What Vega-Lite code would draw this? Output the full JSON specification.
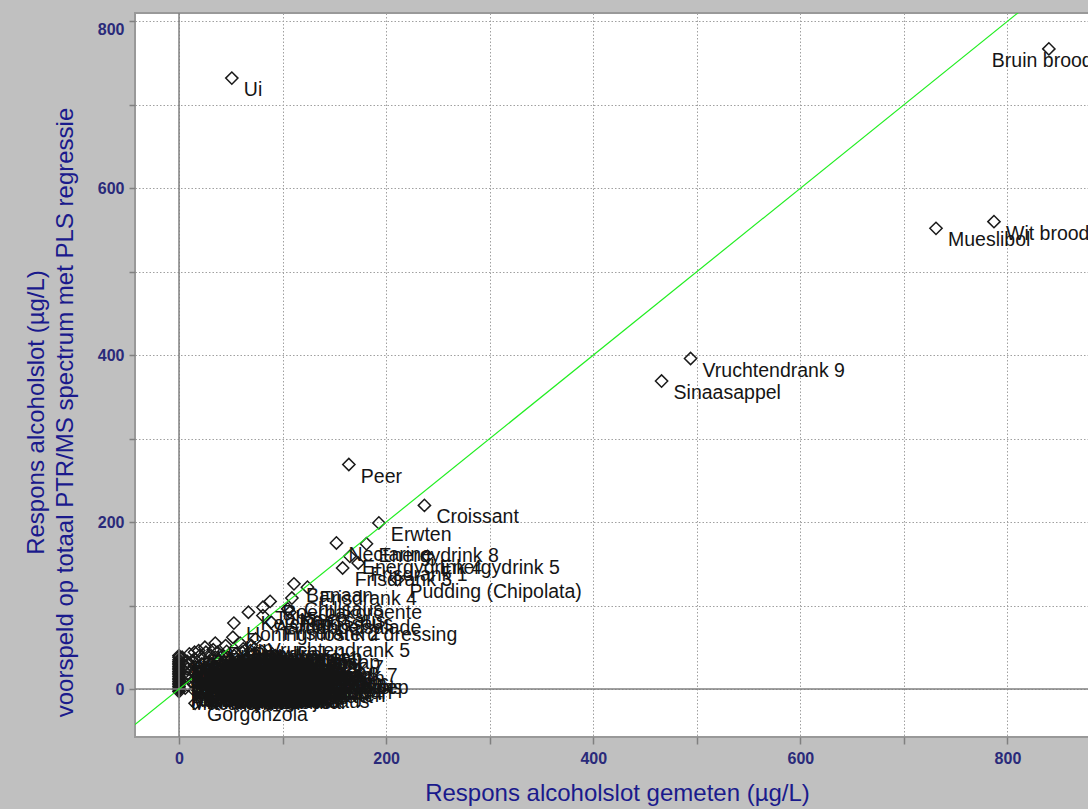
{
  "$schema": "https://vega.github.io/schema/vega-lite/v6.json",
  "autosize": {"type": "none"},
  "padding": {"left": 135, "top": 13, "right": 0, "bottom": 72},
  "width": 976,
  "height": 724,
  "background": "#c0c0c0",
  "config": {
    "view": {"fill": "white", "stroke": "#999999", "strokeWidth": 2},
    "font": "Liberation Sans"
  },
  "datasets": {
    "diag": [{"x": -60, "y": -60}, {"x": 900, "y": 900}],
    "pts": [
      {"x": 51, "y": 732, "n": "Ui"},
      {"x": 840, "y": 767, "n": "Bruin brood"},
      {"x": 731, "y": 552, "n": "Mueslibol"},
      {"x": 787, "y": 560, "n": "Wit brood"},
      {"x": 494, "y": 396, "n": "Vruchtendrank 9"},
      {"x": 466, "y": 369, "n": "Sinaasappel"},
      {"x": 164, "y": 269, "n": "Peer"},
      {"x": 237, "y": 220, "n": "Croissant"},
      {"x": 193, "y": 199, "n": "Erwten"},
      {"x": 152, "y": 175, "n": "Nectarine"},
      {"x": 181, "y": 174, "n": "Energydrink 8"},
      {"x": 165, "y": 159, "n": "Energydrink 4"},
      {"x": 240, "y": 159, "n": "Energydrink 5"},
      {"x": 158, "y": 145, "n": "Frisdrank 3"},
      {"x": 173, "y": 151, "n": "Frisdrank 1"},
      {"x": 211, "y": 131, "n": "Pudding (Chipolata)"},
      {"x": 111, "y": 126, "n": "Banaan"},
      {"x": 124, "y": 122, "n": "Frisdrank 4"},
      {"x": 15.5, "y": -17, "n": "Gorgonzola"},
      {"x": 88, "y": 105, "n": "Roerbakgroente"},
      {"x": 109, "y": 109, "n": "Chilisaus"},
      {"x": 105, "y": 96, "n": "Kaassaus"},
      {"x": 81, "y": 98, "n": "Tabasco"},
      {"x": 67, "y": 92, "n": "Ketchup"},
      {"x": 53, "y": 79, "n": "Honingmosterd dressing"},
      {"x": 81, "y": 88, "n": "Aardappelsalade"},
      {"x": 89, "y": 80, "n": "Frisdrank 2"},
      {"x": 107, "y": 92, "n": "Pindasaus"},
      {"x": 74, "y": 60, "n": "Vruchtendrank 5"},
      {"x": 0, "y": 40, "n": "Water"},
      {"x": 0, "y": 35, "n": "Melk"},
      {"x": 0, "y": 31, "n": "Thee"},
      {"x": 0, "y": 27, "n": "Koffie"},
      {"x": 0, "y": 23, "n": "Karnemelk"},
      {"x": 0, "y": 19, "n": "Yoghurt"},
      {"x": 0, "y": 15, "n": "Kwark"},
      {"x": 0, "y": 11, "n": "Vla"},
      {"x": 0, "y": 7, "n": "Rijst"},
      {"x": 0, "y": 3, "n": "Pasta"},
      {"x": 0, "y": 0, "n": "Aardappel"},
      {"x": 0, "y": -3, "n": "Macaroni"},
      {"x": 0, "y": 38, "n": "Bouillon"},
      {"x": 0, "y": 33, "n": "Erwtensoep"},
      {"x": 0, "y": 29, "n": "Kippensoep"},
      {"x": 0, "y": 25, "n": "Kabeljauw"},
      {"x": 0, "y": 21, "n": "Spek"},
      {"x": 0, "y": 17, "n": "Paling"},
      {"x": 0, "y": 13, "n": "Leverworst"},
      {"x": 0, "y": 9, "n": "Paté"},
      {"x": 0, "y": 5, "n": "Kipfilet"},
      {"x": 0, "y": 1, "n": "Kalkoen"},
      {"x": 0, "y": -1, "n": "Makreel"},
      {"x": 8, "y": 33, "n": "Spaghetti"},
      {"x": 8, "y": 24, "n": "Ei"},
      {"x": 8, "y": 14, "n": "Boter"},
      {"x": 8, "y": 5, "n": "Margarine"},
      {"x": 15, "y": 44, "n": "Kauwgom"},
      {"x": 15, "y": 36, "n": "Pepermunt"},
      {"x": 15, "y": 28, "n": "Drop"},
      {"x": 15, "y": 20, "n": "Snoep"},
      {"x": 15, "y": 12, "n": "Chocolade"},
      {"x": 15, "y": 5, "n": "Hagelslag"},
      {"x": 15, "y": -2, "n": "Pindakaas"},
      {"x": 22, "y": 30, "n": "Beschuit"},
      {"x": 24, "y": 18, "n": "Crackers"},
      {"x": 27, "y": 8, "n": "Ontbijtkoek"},
      {"x": 30, "y": 0, "n": "Stroopwafel"},
      {"x": 33, "y": 47, "n": "Appel"},
      {"x": 35, "y": 38, "n": "Kiwi"},
      {"x": 36, "y": 25, "n": "Mango"},
      {"x": 38, "y": 12, "n": "Ananas"},
      {"x": 40, "y": 3, "n": "Druiven"},
      {"x": 41, "y": -3, "n": "Aardbei"},
      {"x": 26, "y": 44, "n": "Framboos"},
      {"x": 30, "y": 20, "n": "Kers"},
      {"x": 44, "y": 31, "n": "Vruchtendrank 8"},
      {"x": 46, "y": 45, "n": "Pruim"},
      {"x": 48, "y": 20, "n": "Meloen"},
      {"x": 50, "y": 10, "n": "Watermeloen"},
      {"x": 52, "y": 0, "n": "Citroen"},
      {"x": 55, "y": 42, "n": "Limoen"},
      {"x": 56, "y": 28, "n": "Grapefruit"},
      {"x": 58, "y": 15, "n": "Mandarijn"},
      {"x": 60, "y": 5, "n": "Perzik"},
      {"x": 62, "y": -2, "n": "Abrikoos"},
      {"x": 64, "y": 35, "n": "Vijg"},
      {"x": 66, "y": 22, "n": "Dadel"},
      {"x": 68, "y": 12, "n": "Rozijnen"},
      {"x": 70, "y": 2, "n": "Tomaat"},
      {"x": 45, "y": 52, "n": "Komkommer"},
      {"x": 59, "y": 55, "n": "Paprika"},
      {"x": 73, "y": 43, "n": "Wortel"},
      {"x": 74, "y": 22, "n": "Frisdrank 6"},
      {"x": 76, "y": 30, "n": "Knoflook"},
      {"x": 78, "y": 12, "n": "Prei"},
      {"x": 80, "y": 4, "n": "Spinazie"},
      {"x": 84, "y": 38, "n": "Broccoli"},
      {"x": 86, "y": 25, "n": "Bloemkool"},
      {"x": 88, "y": 15, "n": "Champignons"},
      {"x": 90, "y": 5, "n": "Friet"},
      {"x": 94, "y": 32, "n": "Pizza"},
      {"x": 96, "y": 20, "n": "Tosti"},
      {"x": 98, "y": 10, "n": "Parmezaan"},
      {"x": 100, "y": 0, "n": "Ham"},
      {"x": 105, "y": 28, "n": "Salami"},
      {"x": 108, "y": 15, "n": "Rookworst"},
      {"x": 117, "y": 5, "n": "Papaja"},
      {"x": 52, "y": 62, "n": "Kip"},
      {"x": 62, "y": 48, "n": "Appelsap"},
      {"x": 70, "y": 52, "n": "Druivensap"},
      {"x": 80, "y": 45, "n": "Tomatensap"},
      {"x": 90, "y": 42, "n": "Cola"},
      {"x": 100, "y": 38, "n": "Sinas"},
      {"x": 110, "y": 30, "n": "Cassis"},
      {"x": 20, "y": 10, "n": "Zalm"},
      {"x": 28, "y": -2, "n": "Tonijn"},
      {"x": 45, "y": -1, "n": "Haring"},
      {"x": 55, "y": 1, "n": "Garnalen"},
      {"x": 65, "y": 8, "n": "Mayonaise"},
      {"x": 75, "y": -1, "n": "Mosterd"},
      {"x": 85, "y": -2, "n": "Sambal"},
      {"x": 95, "y": -1, "n": "Sojasaus"},
      {"x": 12, "y": 22, "n": "Azijn"},
      {"x": 5, "y": 28, "n": "Olijfolie"},
      {"x": 35, "y": 55, "n": "Energydrink 1"},
      {"x": 42, "y": 40, "n": "Energydrink 2"},
      {"x": 50, "y": 35, "n": "Energydrink 3"},
      {"x": 60, "y": 25, "n": "Energydrink 6"},
      {"x": 70, "y": 40, "n": "Energydrink 7"},
      {"x": 25, "y": 50, "n": "Vruchtendrank 1"},
      {"x": 32, "y": 30, "n": "Vruchtendrank 2"},
      {"x": 38, "y": 18, "n": "Vruchtendrank 3"},
      {"x": 48, "y": 8, "n": "Vruchtendrank 4"},
      {"x": 54, "y": 18, "n": "Vruchtendrank 6"},
      {"x": 62, "y": 30, "n": "Vruchtendrank 7"},
      {"x": 20, "y": 40, "n": "Edammer"},
      {"x": 30, "y": 12, "n": "Brie"},
      {"x": 40, "y": 22, "n": "Camembert"},
      {"x": 50, "y": -1, "n": "Feta"},
      {"x": 60, "y": 15, "n": "Mozzarella"},
      {"x": 72, "y": 18, "n": "Gehakt"},
      {"x": 82, "y": 28, "n": "Rundvlees"},
      {"x": 92, "y": 14, "n": "Vis"},
      {"x": 3, "y": 38, "n": "Kaas jong"},
      {"x": 3, "y": 10, "n": "Kaas belegen"},
      {"x": 6, "y": 20, "n": "Kaas oud"},
      {"x": 6, "y": 1, "n": "Smeerkaas"},
      {"x": 10, "y": 42, "n": "Roomkaas"},
      {"x": 10, "y": 30, "n": "Kruidenkaas"},
      {"x": 13, "y": 8, "n": "Geitenkaas"},
      {"x": 13, "y": 34, "n": "Leerdammer"},
      {"x": 17, "y": 16, "n": "Gouda"},
      {"x": 17, "y": 0, "n": "Emmentaler"},
      {"x": 19, "y": 26, "n": "Cheddar"},
      {"x": 19, "y": 46, "n": "Roquefort"},
      {"x": 23, "y": 4, "n": "Blauwe kaas"},
      {"x": 23, "y": 36, "n": "Boursin"},
      {"x": 26, "y": 14, "n": "Mascarpone"},
      {"x": 26, "y": 24, "n": "Ricotta"},
      {"x": 29, "y": 33, "n": "Zure room"},
      {"x": 29, "y": 6, "n": "Slagroom"},
      {"x": 31, "y": 40, "n": "Koffiemelk"},
      {"x": 31, "y": 16, "n": "Chocolademelk"},
      {"x": 34, "y": 8, "n": "Vanillevla"},
      {"x": 34, "y": 28, "n": "Rijstepap"},
      {"x": 37, "y": 44, "n": "Griesmeel"},
      {"x": 37, "y": 0, "n": "Havermout"},
      {"x": 39, "y": 34, "n": "Cornflakes"},
      {"x": 39, "y": 10, "n": "Muesli"},
      {"x": 43, "y": 15, "n": "Granola"},
      {"x": 43, "y": 25, "n": "Krentenbol"},
      {"x": 47, "y": 38, "n": "Roggebrood"},
      {"x": 47, "y": 2, "n": "Knäckebröd"},
      {"x": 49, "y": 28, "n": "Rijstwafel"},
      {"x": 49, "y": 14, "n": "Popcorn"},
      {"x": 53, "y": 22, "n": "Chips"},
      {"x": 53, "y": 40, "n": "Pinda's"},
      {"x": 57, "y": 8, "n": "Cashewnoten"},
      {"x": 57, "y": 34, "n": "Walnoten"},
      {"x": 61, "y": 20, "n": "Amandelen"},
      {"x": 61, "y": 44, "n": "Hazelnoten"},
      {"x": 63, "y": 10, "n": "Olijven"},
      {"x": 63, "y": 26, "n": "Augurk"},
      {"x": 67, "y": 30, "n": "Zuurkool"},
      {"x": 67, "y": 4, "n": "Rode kool"},
      {"x": 69, "y": 16, "n": "Andijvie"},
      {"x": 69, "y": 46, "n": "Boerenkool"},
      {"x": 71, "y": 26, "n": "Sperziebonen"},
      {"x": 71, "y": 8, "n": "Doperwten"},
      {"x": 77, "y": 36, "n": "Mais"},
      {"x": 77, "y": 20, "n": "Bruine bonen"},
      {"x": 79, "y": 6, "n": "Kikkererwten"},
      {"x": 79, "y": 28, "n": "Linzen"},
      {"x": 83, "y": 14, "n": "Tofu"},
      {"x": 83, "y": 2, "n": "Tempé"},
      {"x": 87, "y": 34, "n": "Frikandel"},
      {"x": 87, "y": 8, "n": "Kroket"},
      {"x": 91, "y": 22, "n": "Bitterballen"},
      {"x": 91, "y": 30, "n": "Loempia"},
      {"x": 93, "y": 2, "n": "Saté"},
      {"x": 93, "y": 40, "n": "Nasi"},
      {"x": 97, "y": 26, "n": "Bami"},
      {"x": 97, "y": 16, "n": "Tomatensoep"}
    ]
  },
  "layer": [
    {
      "data": {"name": "pts"},
      "mark": {"type": "point", "shape": "diamond", "filled": false, "size": 150, "strokeWidth": 1.5, "color": "#1a1a1a", "opacity": 1},
      "encoding": {
        "x": {
          "field": "x", "type": "quantitative",
          "scale": {"domain": [-42.5, 900], "nice": false, "zero": false},
          "axis": {
            "values": [0, 100, 200, 300, 400, 500, 600, 700, 800],
            "labelExpr": "datum.value % 200 === 0 ? datum.label : ''",
            "title": "Respons alcoholslot gemeten (µg/L)",
            "grid": true, "gridDash": [1.5, 2], "gridColor": "#a0a0a0", "gridWidth": 1,
            "domain": false, "tickColor": "#808080", "tickSize": 7, "tickWidth": 1.5,
            "labelFontSize": 16, "labelFontWeight": "bold", "labelColor": "#2a2a7a", "labelPadding": 6,
            "titleFontSize": 24, "titleFontWeight": "normal", "titleColor": "#1a1a8c",
            "titleX": 482, "titleY": 56, "titleAlign": "center", "titleBaseline": "middle"
          }
        },
        "y": {
          "field": "y", "type": "quantitative",
          "scale": {"domain": [-57.5, 810], "nice": false, "zero": false},
          "axis": {
            "values": [0, 100, 200, 300, 400, 500, 600, 700, 800],
            "labelExpr": "datum.value % 200 === 0 ? datum.label : ''",
            "title": ["Respons alcoholslot (µg/L)", "voorspeld op totaal PTR/MS spectrum met PLS regressie"],
            "grid": true, "gridDash": [1.5, 2], "gridColor": "#a0a0a0", "gridWidth": 1,
            "domain": false, "tickColor": "#808080", "tickSize": 6, "tickWidth": 1.5,
            "labelFontSize": 16, "labelFontWeight": "bold", "labelColor": "#2a2a7a", "labelPadding": 5,
            "labelBaseline": {"condition": {"test": "datum.value === 800", "value": "top"}, "value": "middle"},
            "titleFontSize": 24, "titleFontWeight": "normal", "titleColor": "#1a1a8c", "titleLineHeight": 29,
            "titleAngle": -90, "titleX": -99, "titleY": 399, "titleAlign": "center", "titleBaseline": "middle"
          }
        }
      }
    },
    {
      "data": {"values": [{"v": 0}]},
      "mark": {"type": "rule", "color": "#808080", "strokeWidth": 1.5},
      "encoding": {"x": {"field": "v", "type": "quantitative"}}
    },
    {
      "data": {"values": [{"v": 0}]},
      "mark": {"type": "rule", "color": "#808080", "strokeWidth": 1.5},
      "encoding": {"y": {"field": "v", "type": "quantitative"}}
    },
    {
      "data": {"name": "diag"},
      "mark": {"type": "line", "color": "#22ee22", "strokeWidth": 1.2, "clip": true},
      "encoding": {
        "x": {"field": "x", "type": "quantitative"},
        "y": {"field": "y", "type": "quantitative"}
      }
    },
    {
      "data": {"name": "pts"},
      "transform": [{"filter": "datum.n !== 'Bruin brood'"}],
      "mark": {"type": "text", "align": "left", "baseline": "middle", "dx": 12, "dy": 12, "fontSize": 19.5, "color": "#151515"},
      "encoding": {
        "x": {"field": "x", "type": "quantitative"},
        "y": {"field": "y", "type": "quantitative"},
        "text": {"field": "n"}
      }
    },
    {
      "data": {"name": "pts"},
      "transform": [{"filter": "datum.n === 'Bruin brood'"}],
      "mark": {"type": "text", "align": "left", "baseline": "middle", "dx": -57, "dy": 12, "fontSize": 19.5, "color": "#151515"},
      "encoding": {
        "x": {"field": "x", "type": "quantitative"},
        "y": {"field": "y", "type": "quantitative"},
        "text": {"field": "n"}
      }
    }
  ]
}
